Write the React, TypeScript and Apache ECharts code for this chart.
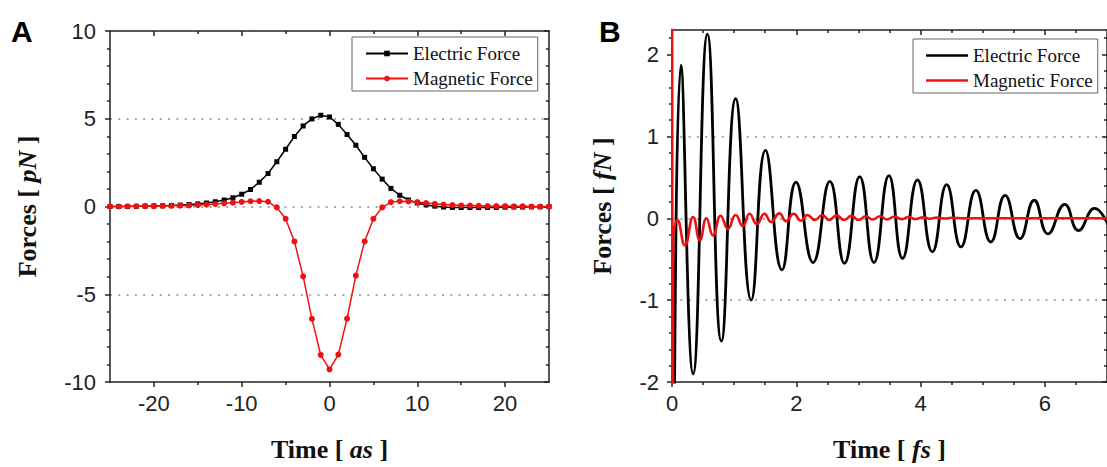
import React, { useEffect, useRef } from 'react';
import * as echarts from 'echarts';

const SERIF = '"Liberation Serif", "Times New Roman", serif';
const SANS = '"Liberation Sans", Arial, Helvetica, sans-serif';

// Panel A data (attoseconds, pN)
const A_TIME = [-25, -24, -23, -22, -21, -20, -19, -18, -17, -16, -15, -14, -13, -12, -11, -10, -9, -8, -7, -6, -5, -4, -3, -2, -1, 0, 1, 2, 3, 4, 5, 6, 7, 8, 9, 10, 11, 12, 13, 14, 15, 16, 17, 18, 19, 20, 21, 22, 23, 24, 25];
const A_ELECTRIC = [0, 0, 0, 0.01, 0.02, 0.03, 0.04, 0.06, 0.08, 0.11, 0.15, 0.2, 0.27, 0.37, 0.5, 0.7, 0.97, 1.38, 1.88, 2.55, 3.26, 3.99, 4.59, 4.99, 5.2, 5.1, 4.68, 4.1, 3.49, 2.8, 2.15, 1.56, 1.03, 0.64, 0.37, 0.2, 0.09, 0.02, -0.03, -0.05, -0.06, -0.06, -0.06, -0.05, -0.05, -0.04, -0.03, -0.03, -0.02, -0.02, -0.01];
const A_MAGNETIC = [0, 0, 0.01, 0.01, 0.02, 0.02, 0.03, 0.04, 0.05, 0.06, 0.08, 0.11, 0.14, 0.18, 0.22, 0.26, 0.3, 0.31, 0.27, -0.05, -0.7, -1.99, -3.98, -6.4, -8.46, -9.28, -8.44, -6.39, -3.94, -1.99, -0.7, -0.05, 0.25, 0.3, 0.29, 0.25, 0.2, 0.15, 0.11, 0.08, 0.06, 0.05, 0.04, 0.03, 0.02, 0.02, 0.01, 0.01, 0, 0, 0];

// Panel B data (femtoseconds, fN) - extrema
const B_ELECTRIC_T = [0.03, 0.144, 0.34, 0.57, 0.795, 1.024, 1.275, 1.504, 1.77, 1.995, 2.27, 2.54, 2.775, 3.02, 3.25, 3.49, 3.71, 3.95, 4.19, 4.42, 4.65, 4.89, 5.13, 5.36, 5.6, 5.83, 6.05, 6.32, 6.54, 6.8, 7.03];
const B_ELECTRIC_F = [-4.0, 1.87, -1.9, 2.25, -1.5, 1.46, -1.0, 0.83, -0.63, 0.44, -0.54, 0.45, -0.55, 0.51, -0.54, 0.52, -0.49, 0.47, -0.41, 0.41, -0.35, 0.34, -0.29, 0.28, -0.25, 0.22, -0.19, 0.17, -0.15, 0.12, -0.1];
const B_MAGNETIC_SPIKE_T = [0, 0.012, 0.02];
const B_MAGNETIC_SPIKE_F = [6, -6, -0.19];
const B_MAGNETIC_T = [0.02, 0.085, 0.208, 0.34, 0.448, 0.555, 0.66, 0.784, 0.9, 1.024, 1.14, 1.248, 1.365, 1.488, 1.595, 1.728, 1.835, 1.957, 2.075, 2.18, 2.3, 2.42, 2.53, 2.65, 2.77, 2.89, 3.0, 3.12, 3.23, 3.35, 3.46, 3.58, 3.69, 3.81, 3.92, 4.04, 4.15, 4.27, 4.38, 4.5, 4.7, 7.0];
const B_MAGNETIC_F = [-0.19, -0.02, -0.33, 0.015, -0.27, 0.0, -0.21, 0.03, -0.13, 0.04, -0.095, 0.055, -0.07, 0.055, -0.045, 0.06, -0.035, 0.055, -0.03, 0.04, -0.02, 0.04, -0.02, 0.035, -0.02, 0.03, -0.02, 0.025, -0.015, 0.025, -0.015, 0.02, -0.01, 0.015, -0.01, 0.012, -0.005, 0.01, -0.003, 0.006, 0.0, 0.0];

// Tick values
const A_X_MAJOR = [-20, -10, 0, 10, 20];
const A_X_MINOR = [-15, -5, 5, 15];
const A_Y_MAJOR = [-10, -5, 0, 5, 10];
const A_Y_MINOR = [-9, -8, -7, -6, -4, -3, -2, -1, 1, 2, 3, 4, 6, 7, 8, 9];
const B_X_MAJOR = [0, 2, 4, 6];
const B_X_MINOR = [0.5, 1, 1.5, 2.5, 3, 3.5, 4.5, 5, 5.5, 6.5];
const B_Y_MAJOR = [-2, -1, 0, 1, 2];
const B_Y_MINOR = [-1.8, -1.6, -1.4, -1.2, -0.8, -0.6, -0.4, -0.2, 0.2, 0.4, 0.6, 0.8, 1.2, 1.4, 1.6, 1.8, 2.2];

const SERIES_NAMES = ['Electric Force', 'Magnetic Force'];
const BLACK = '#000000';
const RED = '#ee1111';
const AXIS_LINE = { color: '#222', width: 1.5 };
const DESIGN_H = 467;

const titleStyle = {
  fontFamily: SERIF,
  fontSize: 26,
  fontWeight: 'bold',
  color: '#111',
  rich: {
    b: { fontFamily: SERIF, fontSize: 26, fontWeight: 'bold', color: '#111' },
    i: { fontFamily: SERIF, fontSize: 26, fontWeight: 'bold', fontStyle: 'italic', color: '#111' },
  },
};

function makeAxes(
  kind: 'x' | 'y',
  gridIndex: number,
  min: number,
  max: number,
  interval: number,
  majors: number[],
  minors: number[],
  name: string,
  nameGap: number,
  labelMargin: number,
  withSplit: boolean
) {
  const isX = kind === 'x';
  const base = { type: 'value', gridIndex, min, max, interval };
  const main = {
    ...base,
    position: isX ? 'bottom' : 'left',
    axisLine: { show: true, onZero: false, lineStyle: AXIS_LINE },
    axisTick: { show: true, inside: false, length: 5, customValues: majors, lineStyle: AXIS_LINE },
    axisLabel: {
      show: true,
      customValues: majors,
      margin: labelMargin,
      fontSize: 22,
      color: '#222',
      fontFamily: SANS,
    },
    splitLine: withSplit
      ? { show: true, showMinLine: false, showMaxLine: false, lineStyle: { color: '#8a8a8a', width: 1.5, type: [2, 6.3] } }
      : { show: false },
    name,
    nameLocation: 'middle',
    nameGap,
    nameRotate: isX ? 0 : 90,
    nameTextStyle: titleStyle,
  };
  const minor = {
    ...base,
    position: isX ? 'bottom' : 'left',
    axisLine: { show: false, onZero: false },
    axisTick: { show: true, inside: false, length: 3, customValues: minors, lineStyle: AXIS_LINE },
    axisLabel: { show: false },
    splitLine: { show: false },
  };
  const opp = {
    ...base,
    position: isX ? 'top' : 'right',
    axisLine: { show: true, onZero: false, lineStyle: AXIS_LINE },
    axisTick: { show: true, inside: true, length: 5, customValues: majors, lineStyle: AXIS_LINE },
    axisLabel: { show: false },
    splitLine: { show: false },
  };
  const oppMinor = {
    ...base,
    position: isX ? 'top' : 'right',
    axisLine: { show: false, onZero: false },
    axisTick: { show: true, inside: true, length: 3, customValues: minors, lineStyle: AXIS_LINE },
    axisLabel: { show: false },
    splitLine: { show: false },
  };
  return [main, minor, opp, oppMinor];
}

const zip = (xs: number[], ys: number[]) => xs.map((x, i) => [x, ys[i]]);

export default function App() {
  const ref = useRef<HTMLDivElement>(null);

  useEffect(() => {
    if (!ref.current) return;
    document.body.style.margin = '0';
    document.documentElement.style.overflow = 'hidden';
    const chart = echarts.init(ref.current, null, { renderer: 'svg' });
    const H = chart.getHeight() || DESIGN_H;
    const s = H / DESIGN_H; // vertical scale to the actual viewport height

    const xA = makeAxes('x', 0, -25, 25, 5, A_X_MAJOR, A_X_MINOR, '{b|Time [ }{i|as}{b| ]}', 54 * s, 10 * s, false);
    const yA = makeAxes('y', 0, -10, 10, 5, A_Y_MAJOR, A_Y_MINOR, '{b|Forces [ }{i|pN}{b| ]}', 70, 14, true);
    const xB = makeAxes('x', 1, 0, 7, 2, B_X_MAJOR, B_X_MINOR, '{b|Time [ }{i|fs}{b| ]}', 54 * s, 10 * s, false);
    const yB = makeAxes('y', 1, -2, 2.3, 1, B_Y_MAJOR, B_Y_MINOR, '{b|Forces [ }{i|fN}{b| ]}', 57, 13, true);

    const legendCommon = {
      orient: 'vertical',
      itemWidth: 42,
      itemGap: 25 * s - 19,
      padding: [7 * s, 5, 3 * s, 13],
      borderColor: '#666',
      borderWidth: 1,
      backgroundColor: '#fff',
      selectedMode: false,
      textStyle: { fontFamily: SERIF, fontSize: 19, color: '#111' },
    };

    const option: any = {
      animation: false,
      backgroundColor: '#ffffff',
      grid: [
        { left: 110, top: 31 * s, width: 439, height: 360 * s },
        { left: 672, top: 30 * s, width: 437.5, height: 360 * s },
      ],
      xAxis: [...xA, ...xB],
      yAxis: [...yA, ...yB],
      legend: [
        {
          ...legendCommon,
          left: 352,
          top: 37 * s,
          itemHeight: 7,
          data: SERIES_NAMES,
        },
        {
          ...legendCommon,
          left: 913,
          top: 39 * s,
          itemHeight: 2.5,
          data: SERIES_NAMES.map((n) => ({ name: n, icon: 'rect' })),
        },
      ],
      graphic: [
        { type: 'text', left: 11, top: 16 * s, style: { text: 'A', font: `bold 30px ${SANS}`, fill: '#000' } },
        { type: 'text', left: 599, top: 16 * s, style: { text: 'B', font: `bold 30px ${SANS}`, fill: '#000' } },
      ],
      series: [
        {
          name: SERIES_NAMES[0],
          type: 'line',
          xAxisIndex: 0,
          yAxisIndex: 0,
          data: zip(A_TIME, A_ELECTRIC),
          symbol: 'rect',
          symbolSize: 5,
          color: BLACK,
          lineStyle: { color: BLACK, width: 1.5 },
          itemStyle: { color: BLACK },
        },
        {
          name: SERIES_NAMES[1],
          type: 'line',
          xAxisIndex: 0,
          yAxisIndex: 0,
          data: zip(A_TIME, A_MAGNETIC),
          symbol: 'circle',
          symbolSize: 6,
          color: RED,
          lineStyle: { color: RED, width: 1.5 },
          itemStyle: { color: RED },
        },
        {
          name: SERIES_NAMES[0],
          type: 'line',
          xAxisIndex: 4,
          yAxisIndex: 4,
          data: zip(B_ELECTRIC_T, B_ELECTRIC_F),
          showSymbol: false,
          symbol: 'none',
          smooth: true,
          color: BLACK,
          lineStyle: { color: BLACK, width: 2.8 },
        },
        {
          name: SERIES_NAMES[1],
          type: 'line',
          xAxisIndex: 4,
          yAxisIndex: 4,
          data: zip(B_MAGNETIC_SPIKE_T, B_MAGNETIC_SPIKE_F),
          showSymbol: false,
          symbol: 'none',
          color: RED,
          lineStyle: { color: RED, width: 2.4 },
        },
        {
          name: SERIES_NAMES[1],
          type: 'line',
          xAxisIndex: 4,
          yAxisIndex: 4,
          data: zip(B_MAGNETIC_T, B_MAGNETIC_F),
          showSymbol: false,
          symbol: 'none',
          smooth: true,
          color: RED,
          lineStyle: { color: RED, width: 2.6 },
        },
      ],
    };

    chart.setOption(option);
    return () => chart.dispose();
  }, []);

  return (
    <div
      ref={ref}
      style={{ position: 'absolute', left: 0, top: 0, width: '100vw', height: '100vh', overflow: 'hidden', background: '#fff' }}
    />
  );
}
